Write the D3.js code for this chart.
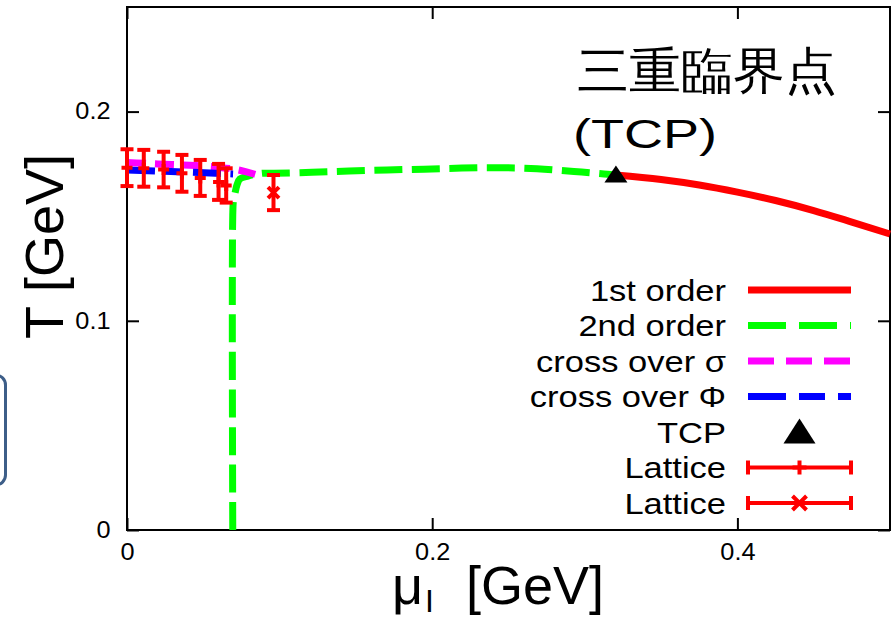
<!DOCTYPE html>
<html>
<head>
<meta charset="utf-8">
<script src="https://cdn.jsdelivr.net/npm/d3@7"></script>
<style>
body { margin: 0; background: #fff; }
svg { display: block; }
text { font-family: "Liberation Sans", Arial, sans-serif; fill: #000; }
</style>
</head>
<body>
<svg width="895" height="627"></svg>
<script>
// axis ticks
var xTicks = [0, 0.2, 0.4];
var yTicks = [0, 0.1, 0.2];

// 1st order line (from TCP to the right edge)
var firstMu = [0.3204, 0.35, 0.375, 0.40, 0.425, 0.45, 0.475, 0.50];
var firstT  = [0.1697, 0.1675, 0.1649, 0.1615, 0.1575, 0.1527, 0.1472, 0.1415];

// 2nd order line (vertical branch, then the chiral line up to TCP)
var secondMu = [0.0693, 0.0693, 0.0698, 0.0708, 0.0721, 0.0740, 0.0793, 0.0885, 0.0963, 0.1212,
                0.1455, 0.1704, 0.1946, 0.2195, 0.2438, 0.2687, 0.2929, 0.3126, 0.3204];
var secondT  = [0.0, 0.1506, 0.1577, 0.1611, 0.1650, 0.1678, 0.1692, 0.1705, 0.1705, 0.1710,
                0.1716, 0.1721, 0.1725, 0.1730, 0.1732, 0.1727, 0.1714, 0.1702, 0.1697];

// cross over sigma
var sigmaMu = [0.0, 0.020, 0.045, 0.060, 0.073, 0.084];
var sigmaT  = [0.1757, 0.1750, 0.1742, 0.1734, 0.1721, 0.1700];

// cross over Phi
var phiMu = [0.0, 0.0426, 0.0695];
var phiT  = [0.1721, 0.1710, 0.1702];

// tricritical point
var tcpMu = [0.3204];
var tcpT  = [0.1697];

// lattice data (+ symbol)
var lat1Mu  = [0.0, 0.011, 0.024, 0.036, 0.048, 0.060, 0.065];
var lat1T   = [0.1732, 0.1729, 0.1723, 0.1705, 0.1683, 0.1664, 0.1647];
var lat1Err = [0.0088, 0.0088, 0.0085, 0.0088, 0.0086, 0.0086, 0.0082];

// lattice data (x symbol)
var lat2Mu  = [0.096];
var lat2T   = [0.1613];
var lat2Err = [0.0084];

var legendLabels = ["1st order", "2nd order", "cross over \u03c3", "cross over \u03a6", "TCP", "Lattice", "Lattice"];

var svg = d3.select("svg");

var x = d3.scaleLinear().domain([0, 0.5]).range([127, 890]);
var y = d3.scaleLinear().domain([0, 0.25]).range([530, 7]);

// rounded box peeking in at the left edge
svg.append("rect")
    .attr("x", -30).attr("y", 375)
    .attr("width", 35.5).attr("height", 110)
    .attr("rx", 10)
    .attr("fill", "#fff")
    .attr("stroke", "#3d5e88")
    .attr("stroke-width", 3);

var fmt = d3.format("~g");

function styleAxis(g) {
  g.select(".domain").remove();
  g.attr("font-family", "Liberation Sans, Arial, sans-serif").attr("font-size", 23);
  g.selectAll(".tick line").attr("stroke", "#000").attr("stroke-width", 2);
  g.selectAll(".tick text").attr("fill", "#000");
}

svg.append("g")
    .attr("transform", "translate(" + x(0) + ",0)")
    .call(d3.axisLeft(y).tickValues(yTicks).tickFormat(fmt).tickSize(-12).tickPadding(15))
    .call(styleAxis)
  .selectAll(".tick text")
    .attr("transform", "scale(1.1,1)");

svg.append("g")
    .attr("transform", "translate(0," + y(0) + ")")
    .call(d3.axisBottom(x).tickValues(xTicks).tickFormat(fmt).tickSize(-12).tickPadding(14))
    .call(styleAxis)
  .selectAll(".tick text")
    .attr("transform", "scale(1.1,1)");

svg.append("g")
    .attr("transform", "translate(" + x(0.5) + ",0)")
    .call(d3.axisRight(y).tickValues(yTicks).tickFormat("").tickSize(-12))
    .call(styleAxis);

svg.append("g")
    .attr("transform", "translate(0," + y(0.25) + ")")
    .call(d3.axisTop(x).tickValues(xTicks).tickFormat("").tickSize(-12))
    .call(styleAxis);

// plot frame
svg.append("rect")
    .attr("x", x(0)).attr("y", y(0.25))
    .attr("width", x(0.5) - x(0)).attr("height", y(0) - y(0.25))
    .attr("fill", "none")
    .attr("stroke", "#000")
    .attr("stroke-width", 2);

// curves
function pts(mu, t) { return d3.zip(mu, t); }

var smooth = d3.line().x(function(d) { return x(d[0]); }).y(function(d) { return y(d[1]); })
    .curve(d3.curveMonotoneX);
var bent = d3.line().x(function(d) { return x(d[0]); }).y(function(d) { return y(d[1]); })
    .curve(d3.curveCatmullRom.alpha(0.5));

svg.append("path")
    .datum(pts(firstMu, firstT))
    .attr("d", smooth)
    .attr("fill", "none").attr("stroke", "#ff0000").attr("stroke-width", 7);

svg.append("path")
    .datum(pts(secondMu, secondT))
    .attr("d", bent)
    .attr("fill", "none").attr("stroke", "#00ff00").attr("stroke-width", 7)
    .attr("stroke-dasharray", "28,9.5");

svg.append("path")
    .datum(pts(sigmaMu, sigmaT))
    .attr("d", smooth)
    .attr("fill", "none").attr("stroke", "#ff00ff").attr("stroke-width", 7)
    .attr("stroke-dasharray", "19,9");

svg.append("path")
    .datum(pts(phiMu, phiT))
    .attr("d", smooth)
    .attr("fill", "none").attr("stroke", "#0000ff").attr("stroke-width", 7)
    .attr("stroke-dasharray", "28,9.5,19,9.5");

// TCP marker
function triangle(cx, cy, w, h) {
  return "M" + cx + "," + (cy - h / 2) + "L" + (cx + w / 2) + "," + (cy + h / 2) +
         "L" + (cx - w / 2) + "," + (cy + h / 2) + "Z";
}

svg.selectAll(".tcp")
    .data(pts(tcpMu, tcpT))
  .enter().append("path")
    .attr("class", "tcp")
    .attr("d", function(d) { return triangle(x(d[0]), y(d[1]) - 1, 23, 17); })
    .attr("fill", "#000");

// lattice error bars
function errorBars(mu, t, err, symbol) {
  var data = d3.zip(mu, t, err);
  var g = svg.append("g").attr("stroke", "#ff0000").attr("stroke-width", 4).attr("fill", "none");
  var bar = g.selectAll("g").data(data).enter().append("g");
  bar.append("line")
      .attr("x1", function(d) { return x(d[0]); }).attr("x2", function(d) { return x(d[0]); })
      .attr("y1", function(d) { return y(d[1] - d[2]); }).attr("y2", function(d) { return y(d[1] + d[2]); });
  bar.append("line")
      .attr("x1", function(d) { return x(d[0]) - 6.5; }).attr("x2", function(d) { return x(d[0]) + 6.5; })
      .attr("y1", function(d) { return y(d[1] - d[2]); }).attr("y2", function(d) { return y(d[1] - d[2]); });
  bar.append("line")
      .attr("x1", function(d) { return x(d[0]) - 6.5; }).attr("x2", function(d) { return x(d[0]) + 6.5; })
      .attr("y1", function(d) { return y(d[1] + d[2]); }).attr("y2", function(d) { return y(d[1] + d[2]); });
  bar.append("path")
      .attr("d", function(d) { return symbol(x(d[0]), y(d[1]), 5.5); });
}

function plusPath(cx, cy, r) {
  return "M" + (cx - r) + "," + cy + "H" + (cx + r) + "M" + cx + "," + (cy - r) + "V" + (cy + r);
}
function crossPath(cx, cy, r) {
  return "M" + (cx - r) + "," + (cy - r) + "L" + (cx + r) + "," + (cy + r) +
         "M" + (cx - r) + "," + (cy + r) + "L" + (cx + r) + "," + (cy - r);
}

errorBars(lat1Mu, lat1T, lat1Err, plusPath);
errorBars(lat2Mu, lat2T, lat2Err, crossPath);

// legend
var legY0 = 290, legStep = 35.5, legX0 = 748, legX1 = 851, legTextX = 726;

var leg = svg.append("g");
leg.selectAll("text")
    .data(legendLabels)
  .enter().append("text")
    .attr("transform", function(d, i) { return "translate(" + legTextX + "," + (legY0 + i * legStep) + ") scale(1.15,1)"; })
    .attr("text-anchor", "end")
    .attr("dy", "0.35em")
    .attr("font-size", 30)
    .text(function(d) { return d; });

function rowY(i) { return legY0 + i * legStep; }

var legLines = [
  {row: 0, color: "#ff0000", dash: null},
  {row: 1, color: "#00ff00", dash: "38,13"},
  {row: 2, color: "#ff00ff", dash: "26,12"},
  {row: 3, color: "#0000ff", dash: "38,13,26,13"}
];
leg.selectAll(".sample")
    .data(legLines)
  .enter().append("line")
    .attr("class", "sample")
    .attr("x1", legX0).attr("x2", legX1)
    .attr("y1", function(d) { return rowY(d.row); })
    .attr("y2", function(d) { return rowY(d.row); })
    .attr("stroke", function(d) { return d.color; })
    .attr("stroke-width", 7)
    .attr("stroke-dasharray", function(d) { return d.dash; });

var legMid = (legX0 + legX1) / 2;
leg.append("path")
    .attr("d", triangle(legMid, rowY(4) - 1, 32, 25))
    .attr("fill", "#000");

[[5, plusPath], [6, crossPath]].forEach(function(r) {
  var yy = rowY(r[0]);
  var g = leg.append("g").attr("stroke", "#ff0000").attr("stroke-width", 4).attr("fill", "none");
  g.append("line").attr("x1", legX0).attr("x2", legX1).attr("y1", yy).attr("y2", yy);
  g.append("line").attr("x1", legX0).attr("x2", legX0).attr("y1", yy - 7).attr("y2", yy + 7);
  g.append("line").attr("x1", legX1).attr("x2", legX1).attr("y1", yy - 7).attr("y2", yy + 7);
  g.append("path").attr("d", r[1](legMid, yy, 7));
});

// axis titles
svg.append("text")
    .attr("transform", "translate(63,339) rotate(-90)")
    .attr("font-size", 54)
    .text("T [GeV]");

var xt = svg.append("text").attr("font-size", 54);
xt.append("tspan").attr("x", 392).attr("y", 604).text("\u03bc");
xt.append("tspan").attr("x", 425).attr("y", 612).attr("font-size", 32).text("I");
xt.append("tspan").attr("x", 466).attr("y", 604).text("[GeV]");

// annotation
svg.append("text")
    .attr("transform", "translate(577,88) scale(1.04,1)")
    .attr("font-family", "Noto Sans CJK JP")
    .attr("font-size", 50)
    .text("三重臨界点");

svg.append("text")
    .attr("transform", "translate(573,148) scale(1.35,1)")
    .attr("font-size", 40)
    .text("(TCP)");
</script>
</body>
</html>
